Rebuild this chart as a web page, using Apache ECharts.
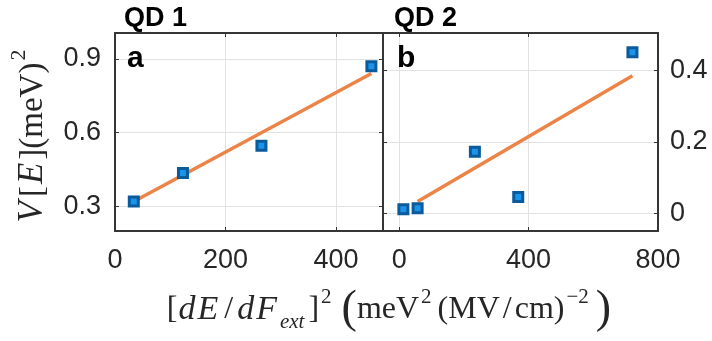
<!DOCTYPE html>
<html>
<head>
<meta charset="utf-8">
<script src="https://cdn.jsdelivr.net/npm/echarts@6/dist/echarts.min.js"></script>
<style>
  html, body { margin: 0; background: #fff; }
  #chart { width: 712px; height: 341px; }
</style>
</head>
<body>
<div id="chart"></div>
<script>
// QD 1 (panel a)
const qd1X = [34, 123, 265, 464]
const qd1Y = [0.32, 0.436, 0.547, 0.87]
const qd1FitX = [34, 464]
const qd1FitY = [0.32, 0.84]
// QD 2 (panel b)
const qd2X = [13, 57, 234, 368, 721]
const qd2Y = [0.011, 0.014, 0.172, 0.045, 0.451]
const qd2FitX = [57, 721]
const qd2FitY = [0.033, 0.385]
// tick labels
const qd1XTicks = [0, 200, 400]
const qd1YTicks = [0.3, 0.6, 0.9]
const qd2XTicks = [0, 400, 800]
const qd2YTicks = [0, 0.2, 0.4]

const ink = '#262626'
const boxColor = '#353535'
const gridGray = '#e2e2e2'
const markerFill = '#1a93ea'
const markerEdge = '#0a5a9c'
const fitColor = '#ec8448'

function pairs(xs, ys) {
  return xs.map((x, i) => [x, ys[i]])
}

// main axis: labels, ticks, grid lines (no grid line on the box edge)
function axis(gridIndex, min, max, ticks, position, margin) {
  return {
    type: 'value',
    gridIndex: gridIndex,
    position: position,
    min: min,
    max: max,
    axisLine: { show: true, onZero: false, lineStyle: { color: boxColor, width: 2 } },
    axisTick: {
      show: true,
      inside: true,
      length: 4,
      customValues: ticks,
      lineStyle: { color: boxColor, width: 1 }
    },
    axisLabel: {
      customValues: ticks,
      margin: margin,
      fontFamily: 'Liberation Sans',
      fontSize: 27,
      color: ink,
      formatter: v => String(v)
    },
    splitLine: {
      show: true,
      customValues: ticks.filter(t => t > min && t < max),
      lineStyle: { color: gridGray, width: 1 }
    }
  }
}

// opposite side of the box: line + inward ticks only
function boxAxis(gridIndex, min, max, ticks, position) {
  return {
    type: 'value',
    gridIndex: gridIndex,
    position: position,
    min: min,
    max: max,
    axisLine: { show: true, onZero: false, lineStyle: { color: boxColor, width: 2 } },
    axisTick: {
      show: true,
      inside: true,
      length: 4,
      customValues: ticks.filter(t => t > min && t < max),
      lineStyle: { color: boxColor, width: 1 }
    },
    axisLabel: { show: false },
    splitLine: { show: false }
  }
}

function points(xi, yi, xs, ys) {
  return {
    type: 'scatter',
    xAxisIndex: xi,
    yAxisIndex: yi,
    symbol: 'rect',
    symbolSize: 9,
    z: 3,
    itemStyle: { color: markerFill, borderColor: markerEdge, borderWidth: 3, opacity: 1 },
    data: pairs(xs, ys)
  }
}

function fit(xi, yi, xs, ys) {
  return {
    type: 'line',
    xAxisIndex: xi,
    yAxisIndex: yi,
    symbol: 'none',
    z: 2,
    lineStyle: { color: fitColor, width: 3.5 },
    data: pairs(xs, ys)
  }
}

const serif = 'Liberation Serif'
const bold = { fontFamily: 'Liberation Sans', fontWeight: 'bold', color: '#000' }
const chart = echarts.init(document.getElementById('chart'))
chart.setOption({
  animation: false,
  backgroundColor: '#fff',
  title: [
    { text: 'QD 1', left: 119, top: 0, textStyle: Object.assign({ fontSize: 27 }, bold) },
    { text: 'QD 2', left: 389, top: 0, textStyle: Object.assign({ fontSize: 27 }, bold) },
    { text: 'a', left: 122, top: 39, textStyle: Object.assign({ fontSize: 30 }, bold) },
    { text: 'b', left: 392, top: 39, textStyle: Object.assign({ fontSize: 30 }, bold) }
  ],
  grid: [
    { left: 115, top: 33, width: 268, height: 198 },
    { left: 383, top: 33, width: 275, height: 198 }
  ],
  xAxis: [
    axis(0, 0, 485, qd1XTicks, 'bottom', 16),
    axis(1, -50, 800, qd2XTicks, 'bottom', 16),
    boxAxis(0, 0, 485, qd1XTicks, 'top'),
    boxAxis(1, -50, 800, qd2XTicks, 'top')
  ],
  yAxis: [
    axis(0, 0.2, 1.005, qd1YTicks, 'left', 14),
    axis(1, -0.05, 0.505, qd2YTicks, 'right', 12),
    boxAxis(0, 0.2, 1.005, qd1YTicks, 'right'),
    boxAxis(1, -0.05, 0.505, qd2YTicks, 'left')
  ],
  series: [
    fit(0, 0, qd1FitX, qd1FitY),
    points(0, 0, qd1X, qd1Y),
    fit(1, 1, qd2FitX, qd2FitY),
    points(1, 1, qd2X, qd2Y)
  ],
  graphic: [
    {
      type: 'text',
      x: 29,
      y: 136,
      rotation: Math.PI / 2,
      style: {
        text: '{v|V}{n|[}{e|E}{n|](meV)}{sup|2}',
        align: 'center',
        verticalAlign: 'middle',
        fill: ink,
        rich: {
          n: { fontFamily: serif, fontSize: 33, lineHeight: 42, verticalAlign: 'bottom' },
          v: { fontFamily: serif, fontStyle: 'italic', fontSize: 35, lineHeight: 42, verticalAlign: 'bottom', padding: [0, 4, 0, 0] },
          e: { fontFamily: serif, fontStyle: 'italic', fontSize: 35, lineHeight: 42, verticalAlign: 'bottom', padding: [0, 3, 0, 2] },
          sup: { fontFamily: serif, fontSize: 22, lineHeight: 22, verticalAlign: 'top', padding: [0, 0, 0, 2] }
        }
      }
    },
    {
      type: 'text',
      x: 389,
      y: 310,
      style: {
        text: '{n|[}{d|d}{i|E}{sl|/}{d|d}{i|F}{sub|ext}{cl|]}{sup|2}{gap| }{big|(}{n|meV}{sup|2}{op|(MV}{sl|/}{n|cm)}{sup|−2}{bigr|)}',
        align: 'center',
        verticalAlign: 'middle',
        fill: ink,
        rich: {
          n: { fontFamily: serif, fontSize: 32, lineHeight: 46, verticalAlign: 'middle' },
          op: { fontFamily: serif, fontSize: 32, lineHeight: 46, verticalAlign: 'middle', padding: [0, 0, 0, 4] },
          cl: { fontFamily: serif, fontSize: 32, lineHeight: 46, verticalAlign: 'middle', padding: [0, 0, 0, 3] },
          sl: { fontFamily: serif, fontSize: 32, lineHeight: 46, verticalAlign: 'middle', padding: [0, 3, 0, 3] },
          d: { fontFamily: serif, fontStyle: 'italic', fontSize: 34, lineHeight: 46, verticalAlign: 'middle', padding: [0, 2, 0, 1] },
          i: { fontFamily: serif, fontStyle: 'italic', fontSize: 34, lineHeight: 46, verticalAlign: 'middle', padding: [0, 3, 0, 0] },
          sub: { fontFamily: serif, fontStyle: 'italic', fontSize: 21, lineHeight: 14, verticalAlign: 'bottom', padding: [0, 1, 0, 0] },
          sup: { fontFamily: serif, fontSize: 21, lineHeight: 26, verticalAlign: 'top', padding: [0, 2, 0, 2] },
          gap: { fontFamily: serif, fontSize: 32, lineHeight: 46, verticalAlign: 'middle' },
          big: { fontFamily: serif, fontSize: 46, lineHeight: 46, verticalAlign: 'middle' },
          bigr: { fontFamily: serif, fontSize: 46, lineHeight: 46, verticalAlign: 'middle', padding: [0, 0, 0, 5] }
        }
      }
    }
  ]
})
</script>
</body>
</html>
